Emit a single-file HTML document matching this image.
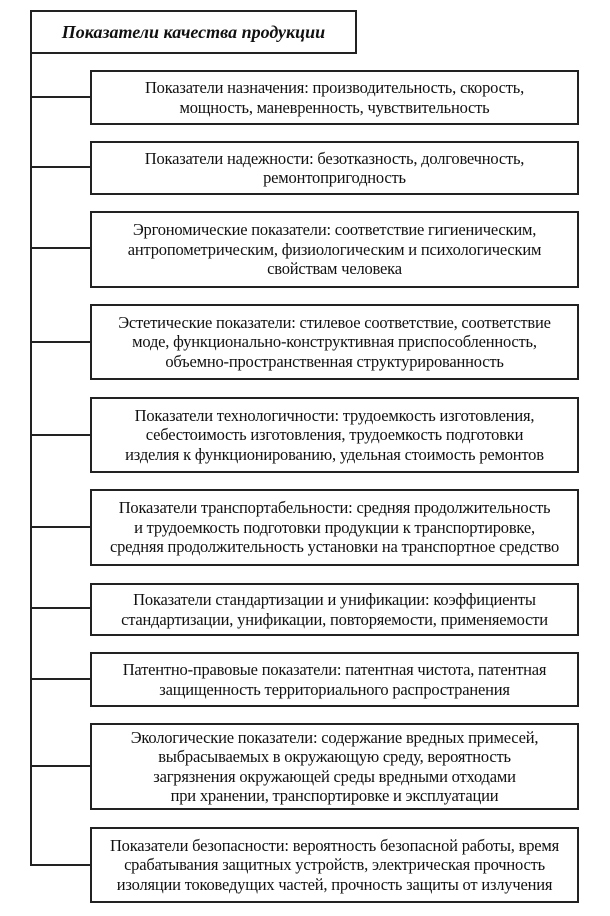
<!DOCTYPE html>
<html><head><meta charset="utf-8"><style>
body{margin:0;width:610px;height:916px;background:#fff;position:relative;overflow:hidden;font-family:"Liberation Serif",serif;color:#111}
.b{position:absolute;left:90px;width:489px;border:2px solid #222;display:flex;align-items:center;justify-content:center;text-align:center;font-size:16.5px;line-height:19.5px;white-space:nowrap;letter-spacing:-0.2px;box-sizing:border-box}
.h{position:absolute;background:#222;height:2px;left:31px;width:59px}
.v{position:absolute;left:30px;top:10px;width:2px;height:856px;background:#222}
.t{position:absolute;left:30px;top:10px;width:327px;height:44px;border:2px solid #222;box-sizing:border-box;display:flex;align-items:center;justify-content:center;font-style:italic;font-weight:bold;font-size:18px}
</style></head><body>
<div class="v"></div>
<div class="t">Показатели качества продукции</div>

<div class="h" style="top:96px"></div>
<div class="b" style="top:70px;height:55px">Показатели назначения: производительность, скорость,<br>мощность, маневренность, чувствительность</div>

<div class="h" style="top:166px"></div>
<div class="b" style="top:141px;height:54px">Показатели надежности: безотказность, долговечность,<br>ремонтопригодность</div>

<div class="h" style="top:247px"></div>
<div class="b" style="top:211px;height:77px">Эргономические показатели: соответствие гигиеническим,<br>антропометрическим, физиологическим и психологическим<br>свойствам человека</div>

<div class="h" style="top:341px"></div>
<div class="b" style="top:304px;height:76px">Эстетические показатели: стилевое соответствие, соответствие<br>моде, функционально-конструктивная приспособленность,<br>объемно-пространственная структурированность</div>

<div class="h" style="top:434px"></div>
<div class="b" style="top:397px;height:76px">Показатели технологичности: трудоемкость изготовления,<br>себестоимость изготовления, трудоемкость подготовки<br>изделия к функционированию, удельная стоимость ремонтов</div>

<div class="h" style="top:526px"></div>
<div class="b" style="top:489px;height:77px">Показатели транспортабельности: средняя продолжительность<br>и трудоемкость подготовки продукции к транспортировке,<br>средняя продолжительность установки на транспортное средство</div>

<div class="h" style="top:607px"></div>
<div class="b" style="top:583px;height:53px">Показатели стандартизации и унификации: коэффициенты<br>стандартизации, унификации, повторяемости, применяемости</div>

<div class="h" style="top:678px"></div>
<div class="b" style="top:652px;height:55px">Патентно-правовые показатели: патентная чистота, патентная<br>защищенность территориального распространения</div>

<div class="h" style="top:765px"></div>
<div class="b" style="top:723px;height:87px">Экологические показатели: содержание вредных примесей,<br>выбрасываемых в окружающую среду, вероятность<br>загрязнения окружающей среды вредными отходами<br>при хранении, транспортировке и эксплуатации</div>

<div class="h" style="top:864px"></div>
<div class="b" style="top:827px;height:76px">Показатели безопасности: вероятность безопасной работы, время<br>срабатывания защитных устройств, электрическая прочность<br>изоляции токоведущих частей, прочность защиты от излучения</div>
</body></html>
